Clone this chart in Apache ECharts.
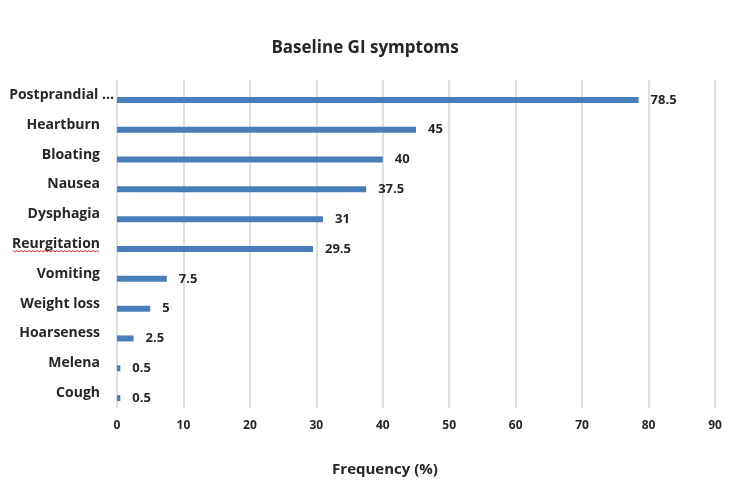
<!DOCTYPE html>
<html>
<head>
<meta charset="utf-8">
<script src="https://cdn.jsdelivr.net/npm/echarts@6/dist/echarts.min.js"></script>
<style>
  html, body { margin: 0; padding: 0; background: #ffffff; }
  #chart { width: 731px; height: 488px; }
</style>
</head>
<body>
<div id="chart"></div>
<script>
// Symptom names, listed top to bottom
const categories = [
  'Postprandial ...', 'Heartburn', 'Bloating', 'Nausea', 'Dysphagia',
  'Reurgitation', 'Vomiting', 'Weight loss', 'Hoarseness', 'Melena', 'Cough'
];
// Frequency of each symptom (%)
const frequency = [78.5, 45, 40, 37.5, 31, 29.5, 7.5, 5, 2.5, 0.5, 0.5];
// Frequency axis range and step
const axisMin = 0;
const axisMax = 90;
const axisStep = 10;

const textColor = '#262626';
const fontFamily = '"Open Sans", "Liberation Sans", sans-serif';

const chart = echarts.init(document.getElementById('chart'), null, { renderer: 'canvas' });

chart.setOption({
  backgroundColor: '#ffffff',
  animation: false,
  title: {
    text: 'Baseline GI symptoms',
    left: 360,
    top: 35,
    textAlign: 'center',
    textStyle: { fontFamily, fontSize: 17, fontWeight: 'bold', color: textColor }
  },
  grid: { left: 117, right: 16, top: 80, bottom: 80, containLabel: false },
  xAxis: {
    type: 'value',
    min: axisMin,
    max: axisMax,
    interval: axisStep,
    name: 'Frequency (%)',
    nameLocation: 'middle',
    nameGap: 54,
    nameTextStyle: {
      fontFamily, fontSize: 15, fontWeight: 'bold', color: textColor,
      padding: [0, 62, 0, 0]
    },
    axisLine: { show: false },
    axisTick: { show: false },
    axisLabel: { margin: 12, fontFamily, fontSize: 12, fontWeight: 'bold', color: textColor },
    splitLine: { show: true, lineStyle: { color: '#d6d6d6', width: 1.5 } }
  },
  yAxis: {
    type: 'category',
    inverse: true,
    data: categories,
    axisLine: { show: false },
    axisTick: { show: false },
    axisLabel: {
      margin: 3,
      fontFamily, fontSize: 14, fontWeight: 'bold', color: textColor,
      // the long truncated name sits closer to the axis than the rest
      formatter: (v, i) => i === 0 ? '{near|' + v + '}' : '{far|' + v + '}',
      rich: {
        near: { fontFamily, fontSize: 14, fontWeight: 'bold', color: textColor },
        far: { fontFamily, fontSize: 14, fontWeight: 'bold', color: textColor, padding: [0, 14, 0, 0] }
      }
    }
  },
  series: [
    {
      // empty slot that shifts the visible bar below each category centre
      type: 'bar',
      silent: true,
      barWidth: 6,
      barGap: '67%',
      itemStyle: { color: 'rgba(0,0,0,0)' },
      data: categories.map(() => null)
    },
    {
      type: 'bar',
      barWidth: 6,
      barGap: '67%',
      itemStyle: { color: '#4a7ebb' },
      label: {
        show: true,
        position: 'right',
        distance: 12,
        fontFamily, fontSize: 13, fontWeight: 'bold', color: textColor,
        formatter: p => String(p.value)
      },
      data: frequency
    }
  ]
});

// Red spell-check squiggle under the misspelt category label
(function () {
  const idx = categories.indexOf('Reurgitation');
  const y = chart.convertToPixel({ yAxisIndex: 0 }, categories[idx]) + 6.5;
  const x0 = 13, x1 = 100, step = 2;
  const pts = [];
  for (let x = x0, k = 0; x <= x1; x += step, k++) {
    pts.push([x, y + (k % 2 ? 1.5 : 0)]);
  }
  chart.setOption({
    graphic: [{
      type: 'polyline',
      shape: { points: pts },
      style: { stroke: '#e03030', lineWidth: 1, fill: null },
      silent: true
    }]
  });
})();
</script>
</body>
</html>
